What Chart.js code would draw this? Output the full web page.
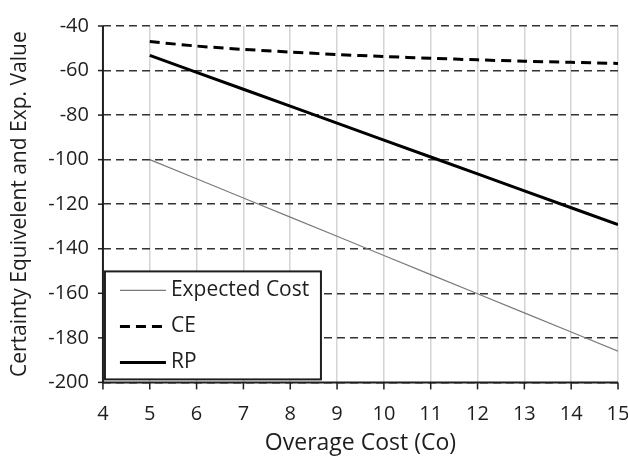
<!DOCTYPE html>
<html>
<head>
<meta charset="utf-8">
<script src="https://cdn.jsdelivr.net/npm/chart.js@4/dist/chart.umd.min.js"></script>
<style>
  html, body { margin: 0; padding: 0; background: #fff; }
  #wrap { width: 628px; height: 459px; }
</style>
</head>
<body>
<div id="wrap"><canvas id="chart" width="628" height="459"></canvas></div>
<script>
// Values
const overage = [5, 6, 7, 8, 9, 10, 11, 12, 13, 14, 15];
const expectedCost = [-100, -108.6, -117.2, -125.8, -134.4, -143, -151.6, -160.2, -168.8, -177.4, -186];
const ceValues = [-47, -49, -50.5, -51.7, -52.8, -53.7, -54.5, -55.2, -55.8, -56.3, -56.8];
const rpValues = [-53.2, -60.8, -68.4, -76, -83.6, -91.2, -98.8, -106.4, -114, -121.6, -129.2];
const seriesNames = ['Expected Cost', 'CE', 'RP'];

const fontFamily = "'Open Sans', 'Noto Sans', sans-serif";
const textColor = '#1e1e1e';

function toPoints(values) {
    return overage.map((x, i) => ({ x: x, y: values[i] }));
}

// Solid axis lines with small outward tick marks
const axisLines = {
    id: 'axisLines',
    afterDatasetsDraw(chart) {
        const ctx = chart.ctx;
        const area = chart.chartArea;
        const xScale = chart.scales.x;
        const yScale = chart.scales.y;
        ctx.save();
        ctx.strokeStyle = '#1e1e1e';
        ctx.lineWidth = 2;
        ctx.beginPath();
        ctx.moveTo(area.left, area.top);
        ctx.lineTo(area.left, area.bottom);
        ctx.lineTo(area.right, area.bottom);
        ctx.stroke();
        ctx.lineWidth = 1.5;
        xScale.ticks.forEach(t => {
            const px = xScale.getPixelForValue(t.value);
            ctx.beginPath();
            ctx.moveTo(px, area.bottom);
            ctx.lineTo(px, area.bottom + 7);
            ctx.stroke();
        });
        yScale.ticks.forEach(t => {
            const py = yScale.getPixelForValue(t.value);
            ctx.beginPath();
            ctx.moveTo(area.left, py);
            ctx.lineTo(area.left - 5, py);
            ctx.stroke();
        });
        ctx.restore();
    }
};

// Draws the boxed legend inside the plot, bottom left, like the original
const boxLegend = {
    id: 'boxLegend',
    afterDraw(chart) {
        const ctx = chart.ctx;
        const area = chart.chartArea;
        const left = area.left + 2;
        const width = 216;
        const height = 108;
        const top = area.bottom - height - 3;

        ctx.save();
        ctx.fillStyle = '#fff';
        ctx.fillRect(left, top, width, height);
        ctx.lineWidth = 2;
        ctx.strokeStyle = '#1e1e1e';
        ctx.strokeRect(left, top, width, height);

        ctx.font = '21px ' + fontFamily;
        ctx.textBaseline = 'middle';
        chart.data.datasets.forEach((ds, i) => {
            const y = top + 19 + i * 36;
            ctx.beginPath();
            ctx.lineWidth = ds.borderWidth;
            ctx.strokeStyle = ds.borderColor;
            ctx.setLineDash(ds.borderDash || []);
            ctx.moveTo(left + 15, y);
            ctx.lineTo(left + 61, y);
            ctx.stroke();
            ctx.setLineDash([]);
            ctx.fillStyle = textColor;
            ctx.fillText(ds.label, left + 66, y);
        });
        ctx.restore();
    }
};

new Chart(document.getElementById('chart'), {
    type: 'line',
    data: {
        datasets: [
            {
                label: seriesNames[0],
                data: toPoints(expectedCost),
                borderColor: '#7a7a7a',
                borderWidth: 1.2,
                pointRadius: 0,
                fill: false
            },
            {
                label: seriesNames[1],
                data: toPoints(ceValues),
                borderColor: '#000',
                borderWidth: 3,
                borderDash: [10, 6],
                pointRadius: 0,
                tension: 0.3,
                fill: false
            },
            {
                label: seriesNames[2],
                data: toPoints(rpValues),
                borderColor: '#000',
                borderWidth: 3,
                pointRadius: 0,
                fill: false
            }
        ]
    },
    options: {
        responsive: false,
        animation: false,
        layout: { padding: { top: 16, right: 10, left: 3, bottom: 2 } },
        plugins: {
            legend: { display: false },
            tooltip: { enabled: false }
        },
        scales: {
            x: {
                type: 'linear',
                min: 4,
                max: 15,
                afterFit: (scale) => { scale.paddingRight = 0; },
                ticks: {
                    stepSize: 1,
                    color: textColor,
                    font: { family: fontFamily, size: 20 },
                    padding: 20
                },
                grid: {
                    color: '#d4d4d4',
                    lineWidth: 1.5,
                    drawTicks: false
                },
                border: { display: false },
                title: {
                    display: true,
                    text: 'Overage Cost (Co)',
                    color: textColor,
                    font: { family: fontFamily, size: 23 },
                    padding: { top: -17, bottom: 0 }
                }
            },
            y: {
                min: -200,
                max: -40,
                ticks: {
                    stepSize: 20,
                    color: textColor,
                    font: { family: fontFamily, size: 20 },
                    padding: 14
                },
                grid: {
                    color: '#333',
                    lineWidth: 1.5,
                    drawTicks: false
                },
                border: { display: false, dash: [8, 5] },
                title: {
                    display: true,
                    text: 'Certainty Equivelent and Exp. Value',
                    color: textColor,
                    font: { family: fontFamily, size: 21 },
                    padding: { bottom: 2 }
                }
            }
        }
    },
    plugins: [axisLines, boxLegend]
});
</script>
</body>
</html>
